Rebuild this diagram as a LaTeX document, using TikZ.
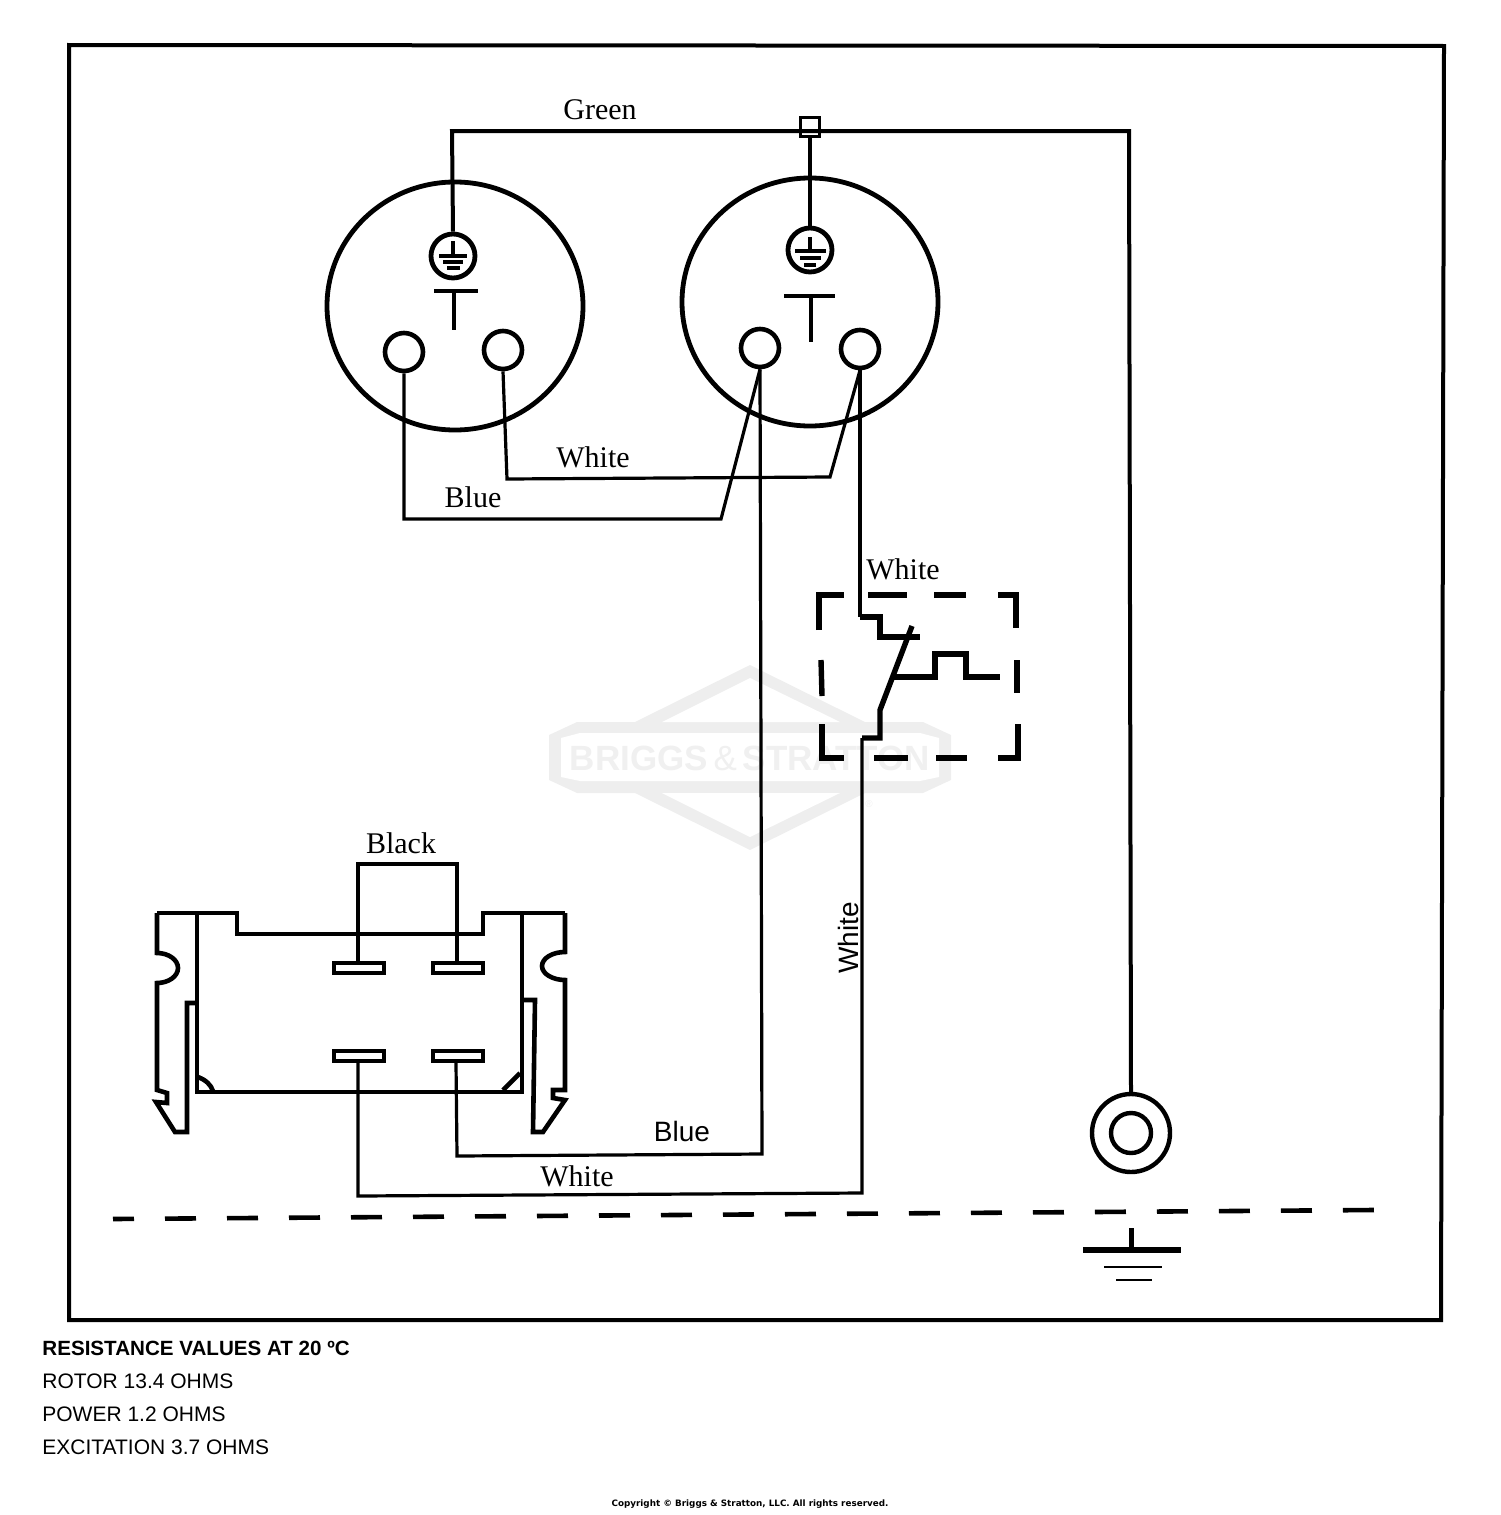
\documentclass[tikz,border=0pt]{standalone}
\usepackage{fontspec}
\setmainfont{Liberation Serif}
\setsansfont{Liberation Sans}
\newfontfamily\copyfont{DejaVu Sans}
\usepackage{xcolor}
\usepackage{tikz}
\usetikzlibrary{shapes.geometric}
\definecolor{markgray}{HTML}{EEEEEE}
\definecolor{marktext}{HTML}{F0F0F0}
\tikzstyle{wire} = [line width=1.6pt, line join=miter]
\tikzstyle{thickwire} = [line width=2pt, line join=miter]
\tikzstyle{housing} = [line width=2.3pt, line join=miter]
\tikzstyle{switchline} = [line width=2.7pt, line join=miter]
\tikzstyle{gapline} = [line width=2.7pt]
\tikzstyle{socket} = [ellipse, draw=black, line width=2.4pt, inner sep=0pt, minimum width=128pt, minimum height=124pt]
\tikzstyle{pin} = [circle, draw=black, line width=2.3pt, inner sep=0pt, minimum size=19pt]
\tikzstyle{earth} = [circle, draw=black, line width=2.4pt, inner sep=0pt, minimum size=22pt]
\tikzstyle{blade} = [rectangle, draw=black, line width=2.3pt, inner sep=0pt, minimum width=25pt, minimum height=5pt, fill=white]
\tikzstyle{wirelabel} = [font=\fontsize{15}{15}\selectfont, inner sep=0pt]
\tikzstyle{sanslabel} = [font=\sffamily\fontsize{14}{14}\selectfont, inner sep=0pt]
\tikzstyle{notes} = [font=\sffamily\fontsize{10.5}{10.5}\selectfont, inner sep=0pt, anchor=west]

\begin{document}
\begin{tikzpicture}[x=0.5pt, y=-0.5pt]
\useasboundingbox (0,0) rectangle (1500,1515);

\fill[markgray] (549,735) -- (577,722) -- (635,722) -- (750,665) -- (865,722) -- (923,722) -- (951,735) -- (951,780) -- (923,793) -- (865,793) -- (750,850) -- (635,793) -- (577,793) -- (549,780) -- cycle;
\fill[white] (561,738) -- (580,733) -- (920,733) -- (939,738) -- (939,777) -- (920,781) -- (580,781) -- (561,777) -- cycle;
\fill[white] (662,722) -- (750,678) -- (840,722) -- cycle;
\fill[white] (662,793) -- (750,837) -- (840,793) -- cycle;
\node (markname) [text=marktext, inner sep=0pt, font=\sffamily\bfseries\fontsize{17.5}{17.5}\selectfont] at (750,758) {BRIGGS\,{\mdseries\&}\,STRATTON};
\node (markreg) [text=marktext, inner sep=0pt, font=\sffamily\fontsize{5}{5}\selectfont] at (869,804) {®};

\draw[line width=2pt] (69,45) -- (1444,46) -- (1441,1320) -- (69,1320) -- cycle;

\node (socketL) [socket] at (455,306) {};
\node (socketR) [socket] at (810,302) {};
\node (earthL) [earth] at (453,256) {};
\node (earthR) [earth] at (810,250) {};
\node (pinLa) [pin] at (404,352) {};
\node (pinLb) [pin] at (503,350) {};
\node (pinRa) [pin] at (760,348) {};
\node (pinRb) [pin] at (860,349) {};
\node (joint) [rectangle, draw=black, line width=1.5pt, inner sep=0pt, minimum size=9.5pt] at (810,127) {};
\node (rotor) [circle, draw=black, line width=2.2pt, inner sep=0pt, minimum size=39pt] at (1131,1133) {};
\node (rotorhole) [circle, draw=black, line width=2.2pt, inner sep=0pt, minimum size=20pt] at (1131,1133) {};

\draw[thickwire] (434,291) -- (478,291);
\draw[thickwire] (454,291) -- (454,330);
\draw[thickwire] (784,296) -- (835,296);
\draw[thickwire] (811,296) -- (811,342);

\draw[thickwire] (453,241) -- (453,256);
\draw[thickwire] (439,256) -- (467,256);
\draw[thickwire] (443,262) -- (463,262);
\draw[thickwire] (447,268) -- (460,268);
\draw[thickwire] (810,237) -- (810,251);
\draw[thickwire] (795,251) -- (826,251);
\draw[thickwire] (800,258) -- (821,258);
\draw[thickwire] (804,265) -- (816,265);

\draw[thickwire] (earthL.north) -- (452,131) -- (1129,131) -- (rotor.north);
\draw[thickwire] (joint.south) -- (earthR.north);
\draw[wire] (pinLa.south) -- (404,519) -- (721,519) -- (pinRa.south);
\draw[wire] (pinLb.south) -- (507,479) -- (830,477) -- (pinRb.south);
\draw[wire] (pinRa.south) -- (762,1154) -- (457,1156) -- (456,1063);
\draw[wire] (pinRb.south) -- (860,617);

\draw[switchline] (860,617) -- (880,617) -- (880,637) -- (920,637);
\draw[switchline] (912,626) -- (880,710) -- (880,738) -- (862,738);
\draw[switchline] (893,677) -- (935,677) -- (935,654) -- (966,654) -- (966,677) -- (1000,677);
\draw[wire] (862,738) -- (862,1193) -- (358,1196) -- (358,1063);

\draw[gapline] (819,630) -- (819,595) -- (844,595);
\draw[gapline] (868,595) -- (907,595);
\draw[gapline] (934,595) -- (966,595);
\draw[gapline] (998,595) -- (1016,595) -- (1016,628);
\draw[gapline] (821,660) -- (822,696);
\draw[gapline] (822,724) -- (822,758) -- (844,758);
\draw[gapline] (874,758) -- (908,758);
\draw[gapline] (936,758) -- (967,758);
\draw[gapline] (998,758) -- (1018,758) -- (1018,724);
\draw[gapline] (1017,660) -- (1017,693);

\draw[housing] (157,913) -- (237,913) -- (237,934) -- (483,934) -- (483,913) -- (565,913);
\draw[housing] (197,913) -- (197,1092) -- (522,1092) -- (522,913);
\draw[housing] (157,913) -- (157,953) arc[start angle=-90, end angle=90, x radius=21, y radius=15] -- (157,1090) -- (167,1093) -- (167,1103) -- (156,1102) -- (175,1132) -- (187,1132) -- (187,1003) -- (197,1003);
\draw[housing] (565,913) -- (565,952) arc[start angle=-90, end angle=-270, x radius=23, y radius=14] -- (565,1090) -- (553,1090) -- (553,1098) -- (565,1100) -- (543,1132) -- (533,1132) -- (535,1000) -- (522,1000);
\draw[housing] (198,1077) .. controls (206,1080) and (211,1085) .. (213,1091);
\draw[housing] (503,1090) -- (520,1073);

\draw[wire] (358,968) -- (358,864) -- (457,864) -- (457,968);
\node (bladeA) [blade] at (359,968) {};
\node (bladeB) [blade] at (458,968) {};
\node (bladeC) [blade] at (359,1056) {};
\node (bladeD) [blade] at (458,1056) {};

\draw[line width=2.3pt, dash pattern=on 15.5pt off 15.5pt, dash phase=5pt] (113,1219) -- (1374,1210);

\node (gndtop) [inner sep=0pt] at (1131,1227) {};
\node (gndbar) [inner sep=0pt] at (1131,1250) {};
\draw[line width=2.5pt] (gndtop) -- (gndbar);
\draw[line width=2.7pt] (1083,1250) -- (1181,1250);
\draw[line width=1pt] (1104,1267) -- (1162,1267);
\draw[line width=1.3pt] (1116,1280) -- (1152,1280);

\node (green) [wirelabel] at (600,110) {Green};
\node (whiteA) [wirelabel] at (593,457) {White};
\node (blueA) [wirelabel] at (473,497) {Blue};
\node (whiteB) [wirelabel] at (903,569) {White};
\node (black) [wirelabel] at (401,843) {Black};
\node (whiteC) [wirelabel] at (577,1176) {White};
\node (blueB) [sanslabel] at (682,1131) {Blue};
\node (whiteD) [sanslabel, rotate=90] at (848,938) {White};

\node (resA) [notes, font=\sffamily\bfseries\fontsize{10.3}{10.3}\selectfont] at (42,1348) {RESISTANCE VALUES AT 20 ºC};
\node (resB) [notes] at (42,1381) {ROTOR 13.4 OHMS};
\node (resC) [notes] at (42,1414) {POWER 1.2 OHMS};
\node (resD) [notes] at (42,1447) {EXCITATION 3.7 OHMS};
\node (copy) [inner sep=0pt, font=\copyfont\bfseries\fontsize{4.4}{4.4}\selectfont] at (750,1504) {Copyright © Briggs \& Stratton, LLC. All rights reserved.};

\end{tikzpicture}
\end{document}
